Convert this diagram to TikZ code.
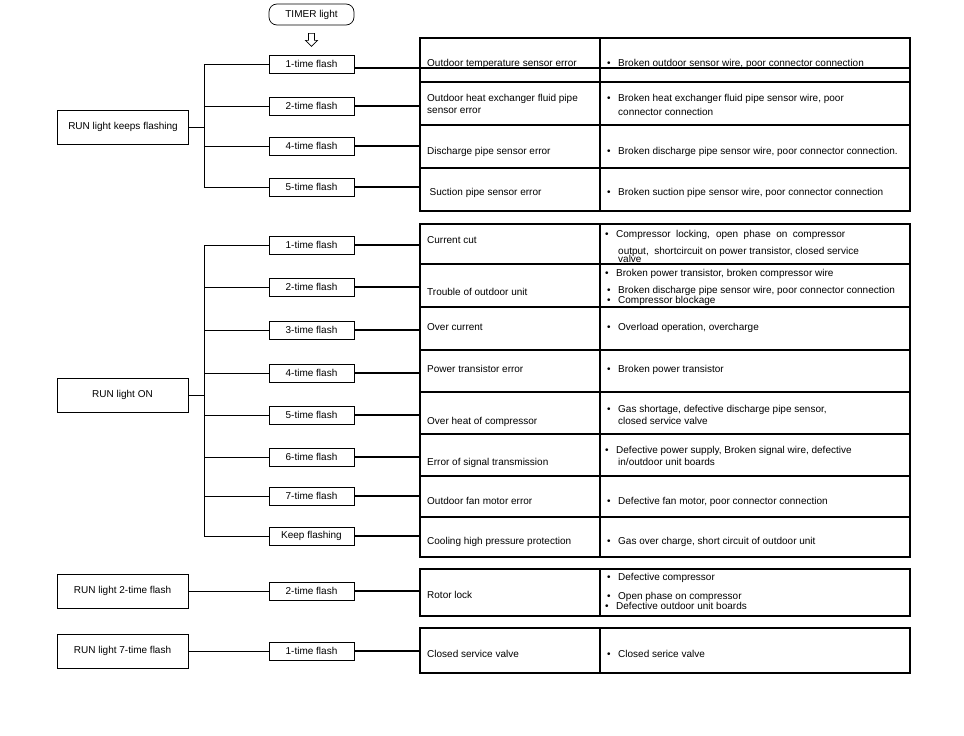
\documentclass[tikz,border=0pt]{standalone}
\usepackage{fontspec}
\setmainfont{Liberation Sans}
\newcommand{\bul}[1][11pt]{\makebox[#1][l]{•}}

\begin{document}
\begin{tikzpicture}[x=1pt,y=-1pt,font=\fontsize{10}{12}\selectfont,
    flashbox/.style={draw,line width=0.7pt,inner sep=0pt,minimum width=85pt,minimum height=18pt},
    runbox/.style={draw,line width=0.7pt,inner sep=0pt,minimum width=131pt,minimum height=34pt},
    cell/.style={draw,line width=1.6pt,inner sep=0pt,outer sep=0pt,anchor=north west},
    txt/.style={anchor=base west,inner sep=0pt}]
            \useasboundingbox (0,0) rectangle (964,736);

            \node[draw,line width=0.7pt,rounded corners=8pt,minimum width=85pt,minimum height=21pt] (timer) at (311.5,14.5) {TIMER light};
            \draw[line width=0.7pt] ([xshift=-3pt,yshift=-8pt]timer.south) -- ++(6,0) -- ++(0,7) -- ++(3,0) -- ++(-6,6) -- ++(-6,-6) -- ++(3,0) -- cycle;

            \node[runbox] (runa) at (123,127) {RUN light keeps flashing};
            \node[runbox] (runb) at (122.5,395) {RUN light ON};
            \node[runbox] (runc) at (122.5,591) {RUN light 2-time flash};
            \node[runbox] (rund) at (122.5,651) {RUN light 7-time flash};

            \node[flashbox] (fa1) at (311.5,64) {1-time flash};
            \node[flashbox] (fa2) at (311.5,106) {2-time flash};
            \node[flashbox] (fa4) at (311.5,146) {4-time flash};
            \node[flashbox] (fa5) at (311.5,187) {5-time flash};

            \node[flashbox] (fb1) at (311.5,245) {1-time flash};
            \node[flashbox] (fb2) at (311.5,287) {2-time flash};
            \node[flashbox] (fb3) at (311.5,330) {3-time flash};
            \node[flashbox] (fb4) at (311.5,373) {4-time flash};
            \node[flashbox] (fb5) at (311.5,415) {5-time flash};
            \node[flashbox] (fb6) at (311.5,457) {6-time flash};
            \node[flashbox] (fb7) at (311.5,496) {7-time flash};
            \node[flashbox] (fbk) at (311.5,536) {Keep flashing};

            \node[flashbox] (fc2) at (311.5,591) {2-time flash};
            \node[flashbox] (fd1) at (311.5,651) {1-time flash};

            \foreach \n/\y/\h in {1/38/30, 2/68/14, 3/82/43, 4/125/43, 5/168/43}{
                \node[cell,minimum width=180pt,minimum height=\h pt] (ea\n) at (420,\y) {};
                \node[cell,minimum width=310pt,minimum height=\h pt] (ca\n) at (600,\y) {};
            }
            \foreach \n/\y/\h in {1/224/40, 2/264/43, 3/307/43, 4/350/42, 5/392/42, 6/434/42, 7/476/41, 8/517/40}{
                \node[cell,minimum width=180pt,minimum height=\h pt] (eb\n) at (420,\y) {};
                \node[cell,minimum width=310pt,minimum height=\h pt] (cb\n) at (600,\y) {};
            }
            \node[cell,minimum width=180pt,minimum height=47pt] (ec) at (420,569) {};
            \node[cell,minimum width=310pt,minimum height=47pt] (cc) at (600,569) {};
            \node[cell,minimum width=180pt,minimum height=45pt] (ed) at (420,628) {};
            \node[cell,minimum width=310pt,minimum height=45pt] (cd) at (600,628) {};

            \coordinate (ja) at ([xshift=15pt]runa.east);
            \coordinate (jb) at ([xshift=16pt]runb.east);
            \begin{scope}[line width=0.7pt]
                \draw (runa.east) -- (ja);
                \draw (ja |- fa1.west) -- (ja |- fa5.west);
                \foreach \f in {fa1,fa2,fa4,fa5} \draw (ja |- \f.west) -- (\f.west);
                \draw (runb.east) -- (jb);
                \draw (jb |- fb1.west) -- (jb |- fbk.west);
                \foreach \f in {fb1,fb2,fb3,fb4,fb5,fb6,fb7,fbk} \draw (jb |- \f.west) -- (\f.west);
                \draw (runc.east) -- (fc2.west);
                \draw (rund.east) -- (fd1.west);
            \end{scope}

            \begin{scope}[line width=1.6pt]
                \draw ([yshift=-4pt]fa1.east) -- ([yshift=-4pt]fa1.east -| ea1.west);
                \draw (fa2.east) -- (fa2.east -| ea3.west);
                \draw (fa4.east) -- (fa4.east -| ea4.west);
                \draw (fa5.east) -- (fa5.east -| ea5.west);
                \foreach \f/\e in {fb1/eb1,fb2/eb2,fb3/eb3,fb4/eb4,fb5/eb5,fb6/eb6,fb7/eb7,fbk/eb8}
                    \draw (\f.east) -- (\f.east -| \e.west);
                \draw (fc2.east) -- (fc2.east -| ec.west);
                \draw (fd1.east) -- (fd1.east -| ed.west);
            \end{scope}

            \node[txt] (la1) at (427,66) {Outdoor temperature sensor error};
            \node[txt] (la3) at (427,101.5) {Outdoor heat exchanger fluid pipe};
            \node[txt] (la3b) at (427,113.5) {sensor error};
            \node[txt] (la4) at (427,154) {Discharge pipe sensor error};
            \node[txt] (la5) at (429.5,195) {Suction pipe sensor error};

            \node[txt] (ra1) at (607,66) {\bul Broken outdoor sensor wire, poor connector connection};
            \node[txt] (ra3) at (607,101.5) {\bul Broken heat exchanger fluid pipe sensor wire, poor};
            \node[txt] (ra3b) at (618,115) {connector connection};
            \node[txt] (ra4) at (607,154) {\bul Broken discharge pipe sensor wire, poor connector connection.};
            \node[txt] (ra5) at (607,195) {\bul Broken suction pipe sensor wire, poor connector connection};

            \node[txt] (lb1) at (427,243) {Current cut};
            \node[txt] (lb2) at (427,295) {Trouble of outdoor unit};
            \node[txt] (lb3) at (427,330) {Over current};
            \node[txt] (lb4) at (427,372) {Power transistor error};
            \node[txt] (lb5) at (427,424) {Over heat of compressor};
            \node[txt] (lb6) at (427,465) {Error of signal transmission};
            \node[txt] (lb7) at (427,504) {Outdoor fan motor error};
            \node[txt] (lb8) at (427,544) {Cooling high pressure protection};

            \node[txt] (rb1) at (605,237) {\bul[11pt]\makebox[229pt][s]{Compressor locking, open phase on compressor}};
            \node[txt] (rb1b) at (618,254) {output,\ \ shortcircuit on power transistor, closed service};
            \node[txt] (rb1c) at (618,262.5) {valve};
            \node[txt] (rb2) at (605,276) {\bul Broken power transistor, broken compressor wire};
            \node[txt] (rb2b) at (607,293.5) {\bul Broken discharge pipe sensor wire, poor connector connection};
            \node[txt] (rb2c) at (607,303) {\bul Compressor blockage};
            \node[txt] (rb3) at (607,330) {\bul Overload operation, overcharge};
            \node[txt] (rb4) at (607,372) {\bul Broken power transistor};
            \node[txt] (rb5) at (607,412) {\bul Gas shortage, defective discharge pipe sensor,};
            \node[txt] (rb5b) at (618,424) {closed service valve};
            \node[txt] (rb6) at (605,453) {\bul Defective power supply, Broken signal wire, defective};
            \node[txt] (rb6b) at (618,465) {in/outdoor unit boards};
            \node[txt] (rb7) at (607,504) {\bul Defective fan motor, poor connector connection};
            \node[txt] (rb8) at (607,544) {\bul Gas over charge, short circuit of outdoor unit};

            \node[txt] (lc) at (427,598) {Rotor lock};
            \node[txt] (rc1) at (607,580) {\bul Defective compressor};
            \node[txt] (rc2) at (607,599) {\bul Open phase on compressor};
            \node[txt] (rc3) at (605,609) {\bul Defective outdoor unit boards};

            \node[txt] (ld) at (427,657) {Closed service valve};
            \node[txt] (rd) at (607,657) {\bul Closed serice valve};
        \end{tikzpicture}
\end{document}
